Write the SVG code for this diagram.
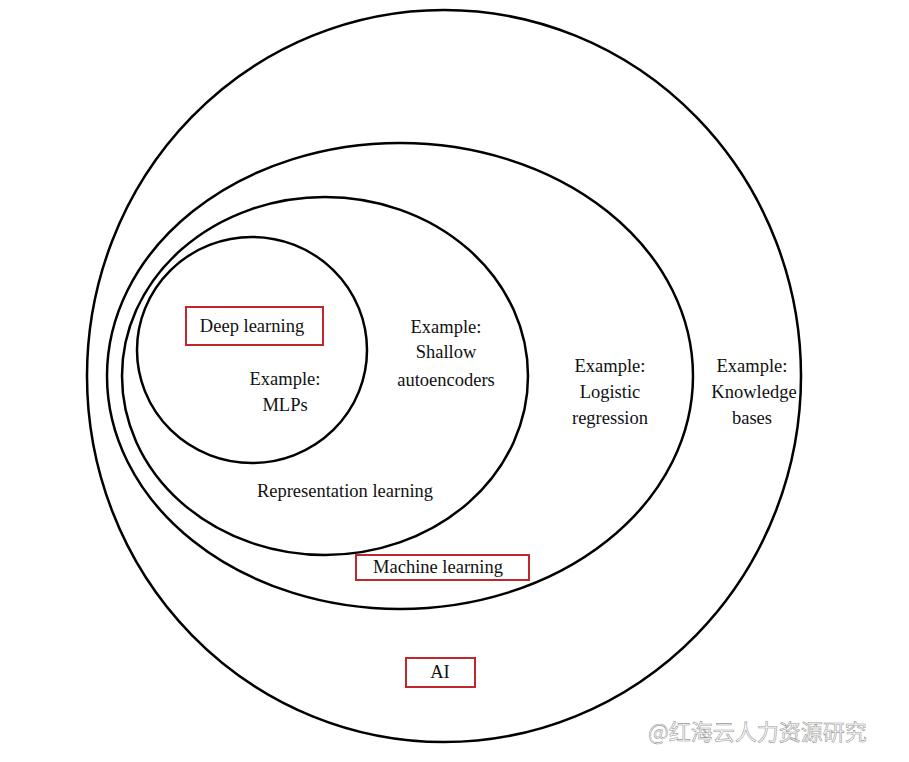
<svg xmlns="http://www.w3.org/2000/svg" width="909" height="762" viewBox="0 0 909 762">
<style>
.c{fill:none;stroke:#000;stroke-width:2.5}
.b{fill:none;stroke:#c0272d;stroke-width:2}
text{font-family:"Liberation Serif",serif;font-size:18.5px;fill:#111;text-anchor:middle}
.w{font-family:"Noto Sans CJK SC",sans-serif;font-size:22px;fill:#fff;stroke:#999;stroke-width:0.6;text-anchor:start}
</style>
<rect width="909" height="762" fill="#fff"/>
<g id="ai"><ellipse class="c" cx="444" cy="376" rx="357" ry="366"/>
<rect class="b" x="406" y="658" width="69" height="29"/><text x="440" y="678">AI</text>
<text x="752" y="372">Example:</text><text x="754" y="398">Knowledge</text><text x="752" y="424">bases</text></g>
<g id="ml"><ellipse class="c" cx="400" cy="376" rx="293" ry="233"/>
<rect class="b" x="356" y="555" width="173" height="25"/><text x="438" y="573">Machine learning</text>
<text x="610" y="372">Example:</text><text x="610" y="398">Logistic</text><text x="610" y="424">regression</text></g>
<g id="rl"><ellipse class="c" cx="325" cy="376" rx="203" ry="179"/>
<text x="345" y="497">Representation learning</text>
<text x="446" y="333">Example:</text><text x="446" y="358">Shallow</text><text x="446" y="386">autoencoders</text></g>
<g id="dl"><ellipse class="c" cx="252" cy="350" rx="115" ry="113"/>
<rect class="b" x="186" y="307" width="137" height="38"/><text x="252" y="332">Deep learning</text>
<text x="285" y="385">Example:</text><text x="285" y="411">MLPs</text></g>
<g id="connectors"></g>
<text class="w" x="648" y="740">@红海云人力资源研究</text>
</svg>
